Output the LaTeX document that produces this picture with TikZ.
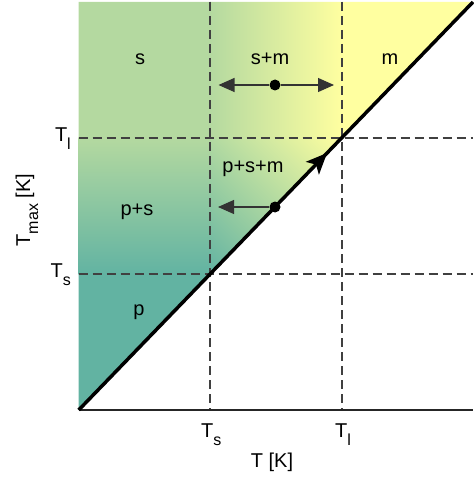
\documentclass[tikz,border=0pt]{standalone}
\usepackage{fontspec}
\setmainfont{Liberation Sans}
\usetikzlibrary{arrows.meta,decorations.markings}
\definecolor{cg}{RGB}{180,217,160}
\definecolor{ct}{RGB}{98,179,162}
\definecolor{cy}{RGB}{255,255,160}
\definecolor{cdash}{RGB}{64,64,64}
\newcommand{\lowsub}[1]{\raisebox{-8pt}{\fontsize{16pt}{16pt}\selectfont #1}}
\begin{document}
\begin{tikzpicture}[x=1pt,y=-1pt,
  lab/.style={font=\fontsize{20pt}{24pt}\selectfont, inner sep=0pt},
  dashline/.style={draw=cdash, line width=1.3pt, dash pattern=on 9pt off 5pt},
  conn/.style={draw=black!80, line width=1.1pt, -{Triangle[length=16pt,width=14pt]}},
  dotn/.style={circle, fill=black, inner sep=0pt, minimum size=11pt},
  diag/.style={line width=3.5pt, black,
    decoration={markings, mark=at position 0.63 with {\arrow{Stealth[length=21pt,width=18pt,inset=5pt]}}},
    postaction={decorate}}]
\useasboundingbox (0,0) rectangle (473,478);
\coordinate (O) at (78.7,410);
\coordinate (TR) at (473,2);
\coordinate (TL) at (78.7,2);
\coordinate (AxE) at (473,410);
% fill
\begin{scope}
  \clip (O) -- (TR) -- (TL) -- cycle;
  \begin{scope}
    \clip (209.5,137.5) rectangle (342.5,274.5);
    \begin{scope}[transform canvas={rotate around={-45:(276,206)}}]
      \shade[bottom color=ct, top color=cy] (176,111.25) rectangle (376,300.75);
    \end{scope}
  \end{scope}
  \fill[cg] (78,1) rectangle (210.5,138.5);
  \shade[top color=cg, bottom color=ct] (78,137.5) rectangle (210,274.5);
  \fill[ct] (78,274) rectangle (210.5,411);
  \shade[left color=cg, right color=cy] (210,1) rectangle (342.5,138);
  \fill[cy] (342,1) rectangle (474,138);
\end{scope}
% dashed lines
\coordinate (sT) at (210,2); \coordinate (sB) at (210,410);
\coordinate (lT) at (342,2); \coordinate (lB) at (342,410);
\coordinate (hl1) at (78.7,138); \coordinate (hl2) at (473,138);
\coordinate (hs1) at (78.7,274); \coordinate (hs2) at (473,274);
\draw[dashline] (sT) -- (sB);
\draw[dashline] (lT) -- (lB);
\draw[dashline] (hl1) -- (hl2);
\draw[dashline] (hs1) -- (hs2);
% axis
\draw[line width=1.2pt, black!85] (O) -- (AxE);
% diagonal
\draw[diag] (O) -- (TR);
% arrows
\node[dotn] (d1) at (275,85) {};
\coordinate (a1L) at (218.5,85);
\coordinate (a1R) at (334,85);
\draw[conn] (d1) -- (a1L);
\draw[conn] (d1) -- (a1R);
\node[dotn] (d2) at (275,207) {};
\coordinate (a2L) at (218,207);
\draw[conn] (d2) -- (a2L);
% region labels
\node[lab, anchor=base] (ls) at (140,65) {s};
\node[lab, anchor=base] (lsm) at (270,65) {s+m};
\node[lab, anchor=base] (lm) at (390,65) {m};
\node[lab, anchor=base] (lpsm) at (253,172) {p+s+m};
\node[lab, anchor=base] (lps) at (137,215) {p+s};
\node[lab, anchor=base] (lp) at (139,315) {p};
% axis labels
\node[lab, anchor=base east] (yTl) at (71,142) {T\lowsub{l}};
\node[lab, anchor=base east] (yTs) at (71,277) {T\lowsub{s}};
\node[lab, anchor=base west] (xTs) at (201,437) {T\lowsub{s}};
\node[lab, anchor=base west] (xTl) at (335,437) {T\lowsub{l}};
\node[lab, anchor=base] (xlab) at (272,467) {T [K]};
\node[lab, anchor=base, rotate=90] (ylab) at (30,210) {T\lowsub{max} [K]};
\end{tikzpicture}
\end{document}
